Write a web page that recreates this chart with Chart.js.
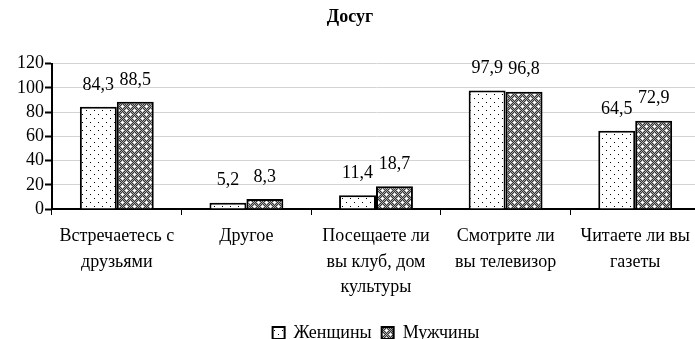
<!DOCTYPE html>
<html>
<head>
<meta charset="utf-8">
<script src="https://cdn.jsdelivr.net/npm/chart.js@4"></script>
<style>
  html, body { margin: 0; padding: 0; background: #fff; overflow: hidden; }
  #wrap { width: 700px; height: 339px; overflow: hidden; }
</style>
</head>
<body>
<div id="wrap"><canvas id="chart" width="700" height="352"></canvas></div>
<script>
const categories = [
  ['Встречаетесь с', 'друзьями'],
  'Другое',
  ['Посещаете ли', 'вы клуб, дом', 'культуры'],
  ['Смотрите ли', 'вы телевизор'],
  ['Читаете ли вы', 'газеты']
];
const women = [84.3, 5.2, 11.4, 97.9, 64.5];
const men = [88.5, 8.3, 18.7, 96.8, 72.9];
const yTicks = [0, 20, 40, 60, 80, 100, 120];

const FONT = "'Liberation Serif', 'Times New Roman', serif";

// точечная заливка (женщины)
function dotPattern() {
  const c = document.createElement('canvas');
  c.width = 8; c.height = 8;
  const g = c.getContext('2d');
  g.fillStyle = '#fff';
  g.fillRect(0, 0, 8, 8);
  g.fillStyle = '#000';
  g.fillRect(2, 2, 1, 1);
  g.fillRect(6, 6, 1, 1);
  return g.createPattern(c, 'repeat');
}

// тёмная клетка с белыми крестиками (мужчины)
function checkPattern() {
  const c = document.createElement('canvas');
  c.width = 8; c.height = 8;
  const g = c.getContext('2d');
  for (let y = 0; y < 8; y++) {
    for (let x = 0; x < 8; x++) {
      g.fillStyle = (x + y) % 2 ? '#333' : '#aaa';
      g.fillRect(x, y, 1, 1);
    }
  }
  g.fillStyle = '#fff';
  [[2, 2], [6, 6]].forEach(([x, y]) => {
    g.fillRect(x, y, 1, 1);
    g.fillRect(x - 1, y, 1, 1);
    g.fillRect(x + 1, y, 1, 1);
    g.fillRect(x, y - 1, 1, 1);
    g.fillRect(x, y + 1, 1, 1);
  });
  return g.createPattern(c, 'repeat');
}

const valueLabels = {
  id: 'valueLabels',
  afterDatasetsDraw(chart) {
    const ctx = chart.ctx;
    ctx.save();
    ctx.font = '18px ' + FONT;
    ctx.fillStyle = '#000';
    ctx.textAlign = 'center';
    ctx.textBaseline = 'bottom';
    chart.data.datasets.forEach((ds, i) => {
      chart.getDatasetMeta(i).data.forEach((bar, j) => {
        const txt = ds.data[j].toFixed(1).replace('.', ',');
        ctx.fillText(txt, bar.x, bar.y - 13);
      });
    });
    ctx.restore();
  }
};

new Chart(document.getElementById('chart'), {
  type: 'bar',
  data: {
    labels: categories,
    datasets: [
      {
        label: 'Женщины',
        data: women,
        backgroundColor: dotPattern(),
        borderColor: '#000',
        borderWidth: 2,
        borderSkipped: 'bottom'
      },
      {
        label: 'Мужчины',
        data: men,
        backgroundColor: checkPattern(),
        borderColor: '#000',
        borderWidth: 2,
        borderSkipped: 'bottom'
      }
    ]
  },
  options: {
    responsive: false,
    animation: false,
    events: [],
    layout: { padding: 0 },
    datasets: {
      bar: { categoryPercentage: 0.57, barPercentage: 1.0 }
    },
    scales: {
      x: {
        afterFit(scale) { scale.height = 105; },
        grid: {
          offset: true,
          drawOnChartArea: false,
          tickLength: 6,
          tickColor: '#000',
          tickWidth: 1
        },
        border: { color: '#000', width: 2 },
        ticks: {
          color: '#000',
          font: { family: FONT, size: 18, lineHeight: 1.4 },
          padding: 9,
          maxRotation: 0,
          autoSkip: false
        }
      },
      y: {
        min: 0,
        max: 120,
        afterFit(scale) { scale.width = 52; },
        afterBuildTicks(scale) { scale.ticks = yTicks.map(v => ({ value: v })); },
        grid: {
          color: '#d4d4d4',
          lineWidth: 1,
          tickLength: 7,
          tickColor: '#000',
          tickWidth: 2
        },
        border: { color: '#000', width: 2 },
        ticks: {
          color: '#000',
          font: { family: FONT, size: 18 },
          padding: 1,
          autoSkip: false
        }
      }
    },
    plugins: {
      title: {
        display: true,
        text: 'Досуг',
        color: '#000',
        font: { family: FONT, size: 18, weight: 'bold' },
        padding: { top: 7, bottom: 35 }
      },
      legend: {
        position: 'bottom',
        fullSize: false,
        labels: {
          color: '#000',
          boxWidth: 12,
          boxHeight: 12,
          padding: 10,
          font: { family: FONT, size: 18 }
        }
      },
      tooltip: { enabled: false }
    }
  },
  plugins: [valueLabels]
});
</script>
</body>
</html>
